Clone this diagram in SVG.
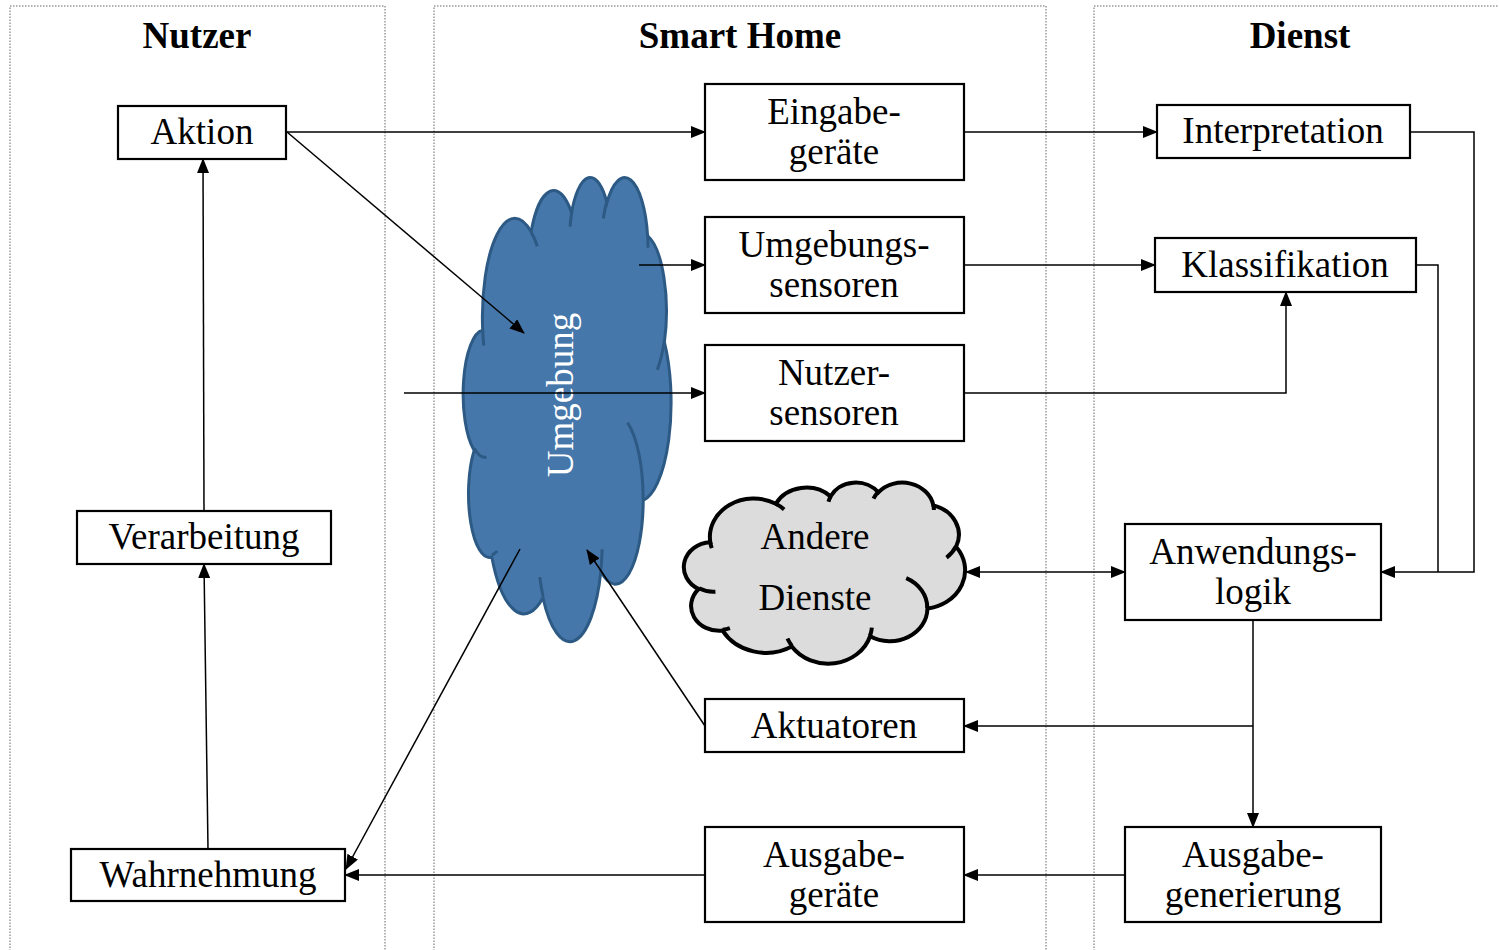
<svg xmlns="http://www.w3.org/2000/svg" width="1499" height="950" viewBox="0 0 1499 950">
<style>
.frame{fill:none;stroke:#666;stroke-width:1;stroke-dasharray:1.5 1.5}
.title{font-family:"Liberation Serif","Times New Roman",serif;font-size:37px;font-weight:bold;text-anchor:middle;fill:#000}
.box{fill:#fff;stroke:#000;stroke-width:2.2}
.lbl{font-family:"Liberation Serif","Times New Roman",serif;font-size:37px;text-anchor:middle;fill:#000}
.conn{fill:none;stroke:#000;stroke-width:1.5}
</style>
<defs>
<marker id="arr" markerUnits="userSpaceOnUse" markerWidth="15" markerHeight="12" refX="14" refY="6" orient="auto-start-reverse" viewBox="0 0 15 12">
<path d="M0,0 L15,6 L0,12 z" fill="#000"/>
</marker>
<path id="cloudOut" vector-effect="non-scaling-stroke" d="M3900,14370 A6753,9190 0 0 1 14005.7,5202.5 A5333,7267 0 0 1 22456.9,3432.2 A4365,5945 0 0 1 29833,2479.1 A4857,6595 0 0 1 38317.4,5575.5 A5333,7273 0 0 1 41817.9,15459.3 A6775,9220 0 0 1 37402.6,30199.9 A5785,7867 0 0 1 28555.1,36810.9 A6752,9215 0 0 1 16479.9,39263.6 A7720,10543 0 0 1 5803.5,35469 A4360,5918 0 0 1 2113.3,25545.8 A4345,5945 0 0 1 3900,14370 Z"/>
<path id="cloudIn" vector-effect="non-scaling-stroke" fill="none" d="M4693,26177 A4345,5945 0 0 1 2160,25380 M6928,34899 A4360,5918 0 0 1 5820,35281 M16478,39090 A6752,9215 0 0 1 15810,37349 M28827,34751 A6752,9215 0 0 1 28561,36660 M34129,22954 A5785,7867 0 0 1 37381,30090 M41798,15354 A5333,7273 0 0 1 40348,18032 M38324,5426 A4857,6595 0 0 1 38400,6690 M29078,3952 A4857,6595 0 0 1 29821,2339 M22141,4720 A4365,5945 0 0 1 22500,3330 M14000,5192 A6753,9190 0 0 1 15300,6540 M4127,15789 A6753,9190 0 0 1 3900,14371"/>
</defs>

<g id="frames">
<rect class="frame" x="10" y="6" width="375" height="960"/>
<rect class="frame" x="434" y="6" width="612" height="960"/>
<rect class="frame" x="1094" y="6" width="420" height="960"/>
<text class="title" x="197" y="48">Nutzer</text>
<text class="title" x="740" y="48">Smart Home</text>
<text class="title" x="1300" y="48">Dienst</text>
</g>

<g id="umgebung">
<g transform="translate(464,176) scale(0.0047917,0.0107407)" stroke="#2d5a84" stroke-width="3">
<use href="#cloudOut" fill="#4677aa"/>
<use href="#cloudIn"/>
</g>
<text class="lbl" style="fill:#fff" transform="translate(573,395) rotate(-90)">Umgebung</text>
</g>

<g id="andere-dienste">
<g transform="translate(685,482) scale(0.0064815,0.0041898)" stroke="#000" stroke-width="4">
<use href="#cloudOut" fill="#dcdcdc"/>
<use href="#cloudIn"/>
</g>
<text class="lbl" x="815" y="549">Andere</text>
<text class="lbl" x="815" y="610">Dienste</text>
</g>

<g id="aktion"><rect class="box" x="118" y="106" width="168" height="53"/><text class="lbl" x="202" y="144">Aktion</text></g>
<g id="verarbeitung"><rect class="box" x="77" y="511" width="254" height="53"/><text class="lbl" x="204" y="549">Verarbeitung</text></g>
<g id="wahrnehmung"><rect class="box" x="71" y="849" width="274" height="52"/><text class="lbl" x="208" y="887">Wahrnehmung</text></g>

<g id="eingabegeraete"><rect class="box" x="705" y="84" width="259" height="96"/><text class="lbl" x="834" y="124">Eingabe-</text><text class="lbl" x="834" y="164">geräte</text></g>
<g id="umgebungssensoren"><rect class="box" x="705" y="217" width="259" height="96"/><text class="lbl" x="834" y="257">Umgebungs-</text><text class="lbl" x="834" y="297">sensoren</text></g>
<g id="nutzersensoren"><rect class="box" x="705" y="345" width="259" height="96"/><text class="lbl" x="834" y="385">Nutzer-</text><text class="lbl" x="834" y="425">sensoren</text></g>
<g id="aktuatoren"><rect class="box" x="705" y="699" width="259" height="53"/><text class="lbl" x="834" y="738">Aktuatoren</text></g>
<g id="ausgabegeraete"><rect class="box" x="705" y="827" width="259" height="95"/><text class="lbl" x="834" y="867">Ausgabe-</text><text class="lbl" x="834" y="907">geräte</text></g>

<g id="interpretation"><rect class="box" x="1157" y="105" width="253" height="53"/><text class="lbl" x="1283" y="143">Interpretation</text></g>
<g id="klassifikation"><rect class="box" x="1155" y="238" width="261" height="54"/><text class="lbl" x="1285" y="277">Klassifikation</text></g>
<g id="anwendungslogik"><rect class="box" x="1125" y="524" width="256" height="96"/><text class="lbl" x="1253" y="564">Anwendungs-</text><text class="lbl" x="1253" y="604">logik</text></g>
<g id="ausgabegenerierung"><rect class="box" x="1125" y="827" width="256" height="95"/><text class="lbl" x="1253" y="867">Ausgabe-</text><text class="lbl" x="1253" y="907">generierung</text></g>

<g id="connectors">
<line class="conn" x1="287" y1="132" x2="705" y2="132" marker-end="url(#arr)"/>
<line class="conn" x1="287" y1="132" x2="524" y2="333" marker-end="url(#arr)"/>
<line class="conn" x1="204" y1="511" x2="203" y2="159" marker-end="url(#arr)"/>
<line class="conn" x1="208" y1="849" x2="204" y2="564" marker-end="url(#arr)"/>
<line class="conn" x1="520" y1="549" x2="346" y2="869" marker-end="url(#arr)"/>
<line class="conn" x1="705" y1="875" x2="345" y2="875" marker-end="url(#arr)"/>
<line class="conn" x1="705" y1="726" x2="587" y2="550" marker-end="url(#arr)"/>
<line class="conn" x1="639" y1="265" x2="705" y2="265" marker-end="url(#arr)"/>
<line class="conn" x1="404" y1="393" x2="705" y2="393" marker-end="url(#arr)"/>
<line class="conn" x1="964" y1="132" x2="1157" y2="132" marker-end="url(#arr)"/>
<line class="conn" x1="964" y1="265" x2="1155" y2="265" marker-end="url(#arr)"/>
<polyline class="conn" points="964,393 1286,393 1286,292" marker-end="url(#arr)"/>
<polyline class="conn" points="1410,132 1474,132 1474,572 1381,572" marker-end="url(#arr)"/>
<polyline class="conn" points="1416,265 1438,265 1438,572"/>
<line class="conn" x1="966" y1="572" x2="1125" y2="572" marker-start="url(#arr)" marker-end="url(#arr)"/>
<line class="conn" x1="1253" y1="620" x2="1253" y2="827" marker-end="url(#arr)"/>
<line class="conn" x1="1253" y1="726" x2="964" y2="726" marker-end="url(#arr)"/>
<line class="conn" x1="1125" y1="875" x2="964" y2="875" marker-end="url(#arr)"/>
</g>
</svg>
